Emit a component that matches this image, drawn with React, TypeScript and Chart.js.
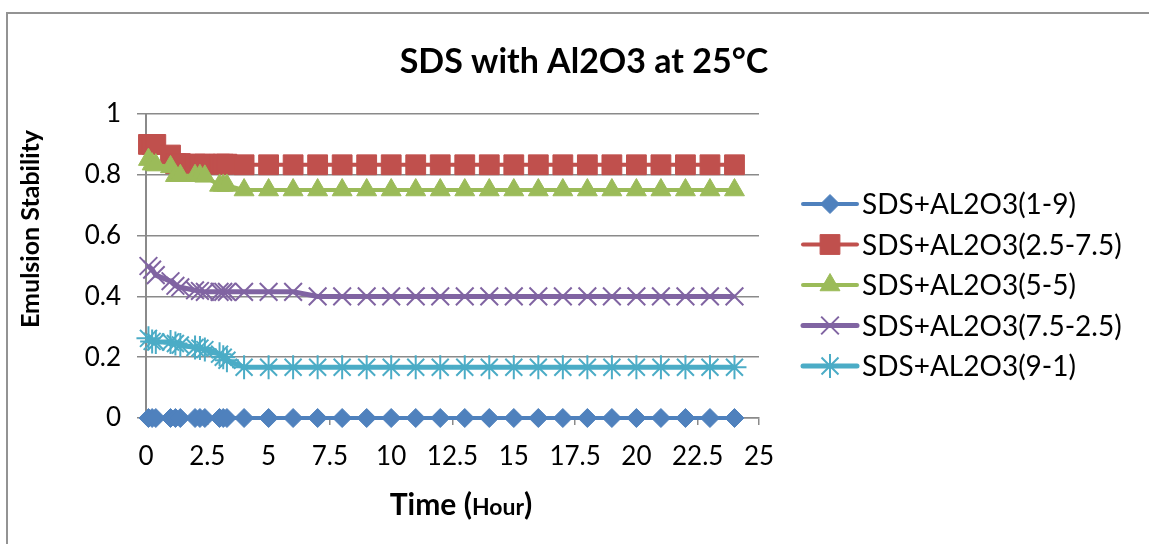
import React, { useEffect, useRef } from 'react';
import { Chart, registerables } from 'chart.js';
import { drawPoint } from 'chart.js/helpers';

Chart.register(...registerables);

// Time in hours
const times = [0.1, 0.25, 0.4, 1, 1.2, 1.4, 2, 2.2, 2.4, 3, 3.15, 3.3, 4, 5, 6, 7, 8, 9, 10, 11, 12, 13, 14, 15, 16, 17, 18, 19, 20, 21, 22, 23, 24];

const seriesNames = [
  'SDS+AL2O3(1-9)',
  'SDS+AL2O3(2.5-7.5)',
  'SDS+AL2O3(5-5)',
  'SDS+AL2O3(7.5-2.5)',
  'SDS+AL2O3(9-1)',
];

const s1_9 = [0, 0, 0, 0, 0, 0, 0, 0, 0, 0, 0, 0, 0, 0, 0, 0, 0, 0, 0, 0, 0, 0, 0, 0, 0, 0, 0, 0, 0, 0, 0, 0, 0];
const s25_75 = [0.9, 0.9, 0.9, 0.865, 0.837, 0.837, 0.835, 0.835, 0.835, 0.835, 0.835, 0.835, 0.833, 0.833, 0.833, 0.833, 0.833, 0.833, 0.833, 0.833, 0.833, 0.833, 0.833, 0.833, 0.833, 0.833, 0.833, 0.833, 0.833, 0.833, 0.833, 0.833, 0.833];
const s5_5 = [0.85, 0.835, 0.832, 0.826, 0.797, 0.797, 0.797, 0.797, 0.795, 0.765, 0.765, 0.765, 0.75, 0.75, 0.75, 0.75, 0.75, 0.75, 0.75, 0.75, 0.75, 0.75, 0.75, 0.75, 0.75, 0.75, 0.75, 0.75, 0.75, 0.75, 0.75, 0.75, 0.75];
const s75_25 = [0.5, 0.488, 0.47, 0.45, 0.435, 0.43, 0.42, 0.418, 0.415, 0.415, 0.415, 0.415, 0.415, 0.415, 0.415, 0.4, 0.4, 0.4, 0.4, 0.4, 0.4, 0.4, 0.4, 0.4, 0.4, 0.4, 0.4, 0.4, 0.4, 0.4, 0.4, 0.4, 0.4];
const s9_1 = [0.262, 0.252, 0.25, 0.25, 0.245, 0.24, 0.232, 0.23, 0.225, 0.21, 0.2, 0.19, 0.167, 0.167, 0.167, 0.167, 0.167, 0.167, 0.167, 0.167, 0.167, 0.167, 0.167, 0.167, 0.167, 0.167, 0.167, 0.167, 0.167, 0.167, 0.167, 0.167, 0.167];

const seriesValues = [s1_9, s25_75, s5_5, s75_25, s9_1];

const xTickLabels = ['0', '2.5', '5', '7.5', '10', '12.5', '15', '17.5', '20', '22.5', '25'];
const yTickLabels = ['0', '0.2', '0.4', '0.6', '0.8', '1'];

const chartTitle = 'SDS with Al2O3 at 25°C';
const yTitle = 'Emulsion Stability';
const xTitleMain = 'Time (';
const xTitleSmall = 'Hour';
const xTitleEnd = ')';

const styles = [
  { color: '#4F81BD', pointStyle: 'rectRot', radius: 9.5, pointBorderWidth: 1, lineWidth: 4 },
  { color: '#C0504D', pointStyle: 'rect', radius: 14, pointBorderWidth: 1, lineWidth: 4 },
  { color: '#9BBB59', pointStyle: 'triangle', radius: 11.5, pointBorderWidth: 1, lineWidth: 4 },
  { color: '#8064A2', pointStyle: 'crossRot', radius: 12.5, pointBorderWidth: 2, lineWidth: 5 },
  { color: '#4BACC6', pointStyle: 'star', radius: 12, pointBorderWidth: 2, lineWidth: 5 },
];

const GRID = '#8a8a8a';

export default function App() {
  const ref = useRef<HTMLCanvasElement>(null);

  useEffect(() => {
    const canvas = ref.current;
    if (!canvas) return;

    const datasets = seriesValues.map((vals, i) => ({
      label: seriesNames[i],
      data: times.map((t, j) => ({ x: t, y: vals[j] })),
      borderColor: styles[i].color,
      backgroundColor: styles[i].color,
      borderWidth: styles[i].lineWidth,
      pointStyle: styles[i].pointStyle as any,
      pointRadius: styles[i].radius,
      pointBackgroundColor: styles[i].color,
      pointBorderColor: styles[i].color,
      pointBorderWidth: styles[i].pointBorderWidth,
      tension: 0,
      clip: false as any,
      order: seriesValues.length - i,
    }));

    const legendPlugin = {
      id: 'excelLegend',
      afterDraw(chart: any) {
        const ctx = chart.ctx as CanvasRenderingContext2D;
        const area = chart.chartArea;
        const x0 = area.right + 44;
        const lineLen = 54;
        const rowY0 = area.top + 90;
        const rowGap = 40.5;
        ctx.save();
        chart.data.datasets.forEach((ds: any, i: number) => {
          const y = rowY0 + i * rowGap;
          ctx.strokeStyle = ds.borderColor;
          ctx.lineWidth = ds.borderWidth;
          ctx.lineCap = 'round';
          ctx.beginPath();
          ctx.moveTo(x0, y);
          ctx.lineTo(x0 + lineLen, y);
          ctx.stroke();
          ctx.fillStyle = ds.pointBackgroundColor;
          ctx.strokeStyle = ds.pointBorderColor;
          ctx.lineWidth = ds.pointBorderWidth;
          ctx.lineCap = 'butt';
          drawPoint(ctx, { pointStyle: ds.pointStyle, radius: ds.pointRadius, rotation: 0, borderWidth: ds.pointBorderWidth } as any, x0 + lineLen / 2, y);
          ctx.fillStyle = '#000';
          ctx.font = '28px Lato';
          ctx.textAlign = 'left';
          ctx.textBaseline = 'middle';
          ctx.fillText(ds.label, x0 + lineLen + 5, y + 1);
        });
        ctx.restore();
      },
    };

    const textPlugin = {
      id: 'titles',
      afterDraw(chart: any) {
        const ctx = chart.ctx as CanvasRenderingContext2D;
        const area = chart.chartArea;
        ctx.save();
        ctx.fillStyle = '#000';
        // Chart title, centred on the whole chart box
        ctx.font = 'bold 34px Lato';
        ctx.textAlign = 'center';
        ctx.textBaseline = 'alphabetic';
        ctx.fillText(chartTitle, chart.width / 2, 72.5);
        // Y title
        ctx.save();
        ctx.translate(area.left - 115, area.top + 115);
        ctx.rotate(-Math.PI / 2);
        ctx.font = 'bold 25px Lato';
        ctx.textAlign = 'center';
        ctx.textBaseline = 'middle';
        ctx.fillText(yTitle, 0, 0);
        ctx.restore();
        // X title with mixed sizes
        const big = 'bold 30px Lato';
        const small = 'bold 23px Lato';
        ctx.font = big;
        const w1 = ctx.measureText(xTitleMain).width;
        const w3 = ctx.measureText(xTitleEnd).width;
        ctx.font = small;
        const w2 = ctx.measureText(xTitleSmall).width;
        const total = w1 + w2 + w3;
        let x = area.left + 315 - total / 2;
        const base = area.bottom + 97;
        ctx.textAlign = 'left';
        ctx.textBaseline = 'alphabetic';
        ctx.font = big;
        ctx.fillText(xTitleMain, x, base);
        x += w1;
        ctx.font = small;
        ctx.fillText(xTitleSmall, x, base);
        x += w2;
        ctx.font = big;
        ctx.fillText(xTitleEnd, x, base);
        ctx.restore();
      },
    };

    const chart = new Chart(canvas, {
      type: 'line',
      data: { datasets: datasets as any },
      options: {
        animation: false,
        responsive: false,
        devicePixelRatio: 1,
        layout: { padding: { left: 0, right: 401, top: 114, bottom: 0 } },
        plugins: {
          legend: { display: false },
          tooltip: { enabled: false },
          title: { display: false },
        },
        scales: {
          x: {
            type: 'linear',
            min: 0,
            max: 25,
            ticks: {
              stepSize: 2.5,
              color: '#000',
              font: { family: 'Lato', size: 26 },
              padding: 16,
              callback: (_v: any, i: number) => xTickLabels[i],
            },
            grid: { drawOnChartArea: false, drawTicks: true, tickLength: 7, color: GRID, lineWidth: 1.5 },
            border: { color: GRID, width: 1.5 },
            afterFit(scale: any) { scale.height = 126; },
          },
          y: {
            type: 'linear',
            min: 0,
            max: 1,
            ticks: {
              stepSize: 0.2,
              color: '#000',
              font: { family: 'Lato', size: 26 },
              padding: 16,
              callback: (_v: any, i: number) => yTickLabels[i],
            },
            grid: { color: GRID, lineWidth: 1.5, tickLength: 9 },
            border: { color: GRID, width: 2 },
            afterFit(scale: any) { scale.width = 138; },
          },
        },
      },
      plugins: [legendPlugin, textPlugin],
    });

    return () => chart.destroy();
  }, []);

  return (
    <div style={{ position: 'fixed', left: 0, top: 0, width: 1149, height: 544, overflow: 'hidden', background: '#fff' }}>
      <div style={{ position: 'absolute', left: 6, top: 12, width: 1300, height: 700, borderLeft: '2px solid #939393', borderTop: '2px solid #939393' }} />
      <canvas ref={ref} width={1152} height={544} style={{ position: 'absolute', left: 8, top: 0, width: 1152, height: 544 }} />
    </div>
  );
}
